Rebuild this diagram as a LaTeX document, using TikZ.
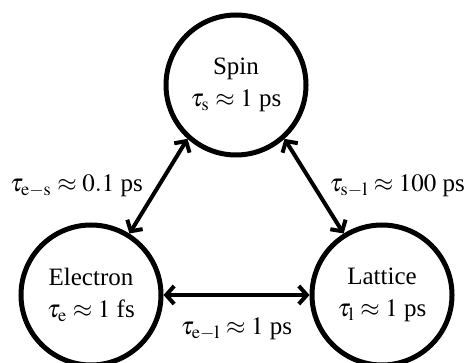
\documentclass[tikz,border=0pt]{standalone}
\usepackage{mathptmx}
\usepackage{fontspec}
\setmainfont{Liberation Serif}
\usepackage{tikz}
\usetikzlibrary{arrows.meta}

\begin{document}
\begin{tikzpicture}[x=.5pt,y=-.5pt,font=\fontsize{12.5}{16}\selectfont,
    state/.style={draw,circle,line width=2.5pt,minimum size=70pt,inner sep=0pt,align=center},
    link/.style={{Straight Barb[length=4pt,width=9pt]}-{Straight Barb[length=4pt,width=9pt]},line width=2pt}]
  \useasboundingbox (0,0) rectangle (465,363);
  \node[state] (spin) at (236,85) {Spin\\$\tau_{\mathrm{s}}\approx 1$ ps};
  \node[state] (electron) at (91,295) {Electron\\$\tau_{\mathrm{e}}\approx 1$ fs};
  \node[state] (lattice) at (382,295) {Lattice\\$\tau_{\mathrm{l}}\approx 1$ ps};
  \draw[link] (electron.58) -- node[left=3.5pt] {$\tau_{\mathrm{e-s}}\approx 0.1$ ps} (spin.228);
  \draw[link] (spin.312) -- node[right=3.5pt] {$\tau_{\mathrm{s-l}}\approx 100$ ps} (lattice.122);
  \draw[link] (electron.east) -- node[below=7pt] {$\tau_{\mathrm{e-l}}\approx 1$ ps} (lattice.west);
\end{tikzpicture}
\end{document}
